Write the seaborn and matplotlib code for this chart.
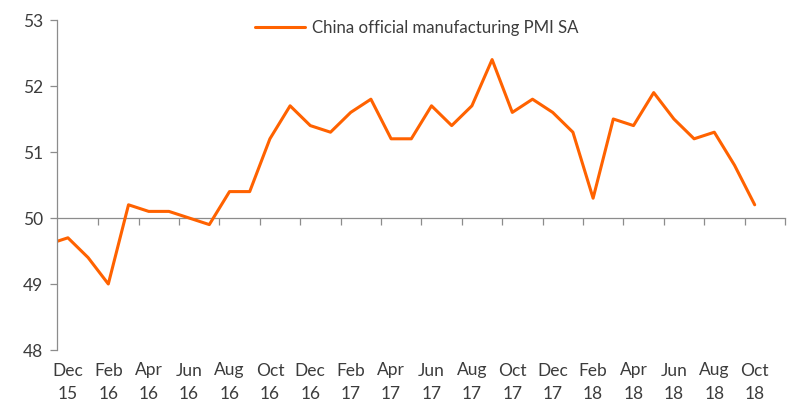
import matplotlib
matplotlib.use("Agg")
import matplotlib.pyplot as plt
import seaborn as sns
import numpy as np
import pandas as pd

months = ["Nov 15", "Dec 15", "Jan 16", "Feb 16", "Mar 16", "Apr 16", "May 16", "Jun 16", "Jul 16",
          "Aug 16", "Sep 16", "Oct 16", "Nov 16", "Dec 16", "Jan 17", "Feb 17", "Mar 17", "Apr 17",
          "May 17", "Jun 17", "Jul 17", "Aug 17", "Sep 17", "Oct 17", "Nov 17", "Dec 17", "Jan 18",
          "Feb 18", "Mar 18", "Apr 18", "May 18", "Jun 18", "Jul 18", "Aug 18", "Sep 18", "Oct 18"]
pmi = [49.6, 49.7, 49.4, 49.0, 50.2, 50.1, 50.1, 50.0, 49.9, 50.4, 50.4, 51.2, 51.7, 51.4, 51.3,
       51.6, 51.8, 51.2, 51.2, 51.7, 51.4, 51.7, 52.4, 51.6, 51.8, 51.6, 51.3, 50.3, 51.5, 51.4,
       51.9, 51.5, 51.2, 51.3, 50.8, 50.2]
tick_labels = ["Dec\n15", "Feb\n16", "Apr\n16", "Jun\n16", "Aug\n16", "Oct\n16", "Dec\n16",
               "Feb\n17", "Apr\n17", "Jun\n17", "Aug\n17", "Oct\n17", "Dec\n17", "Feb\n18",
               "Apr\n18", "Jun\n18", "Aug\n18", "Oct\n18"]
series_name = "China official manufacturing PMI SA"
yticks = [48, 49, 50, 51, 52, 53]

sns.set_style("white")
plt.rcParams['font.family'] = ['Lato', 'DejaVu Sans']

df = pd.DataFrame({"idx": np.arange(len(months)) - 1, "PMI": pmi, "series": series_name})

fig = plt.figure(figsize=(8, 4.12), dpi=100)
ax = fig.add_axes([57/800, 1 - 350/412, (785 - 57)/800, (350 - 20)/412])

sns.lineplot(data=df, x="idx", y="PMI", hue="series", palette=["#FF6200"], linewidth=2.2, ax=ax)

ax.set_xlim(-0.54, 35.5)
ax.set_ylim(48, 53)

text_color = "#3c3c3c"
grey = "#8c8c8c"

ax.set_yticks(yticks)
ax.set_yticklabels([str(v) for v in yticks], fontsize=12.5, color=text_color)
ax.tick_params(axis="y", length=5, width=0.9, color=grey, pad=5, left=True)

label_pos = np.arange(0, len(tick_labels) * 2, 2)
ax.set_xticks(label_pos)
ax.set_xticklabels(tick_labels, fontsize=12.5, color=text_color, linespacing=1.55)
ax.tick_params(axis="x", length=0, pad=9)

for s in ["top", "right", "bottom"]:
    ax.spines[s].set_visible(False)
ax.spines["left"].set_color(grey)
ax.spines["left"].set_linewidth(0.9)

# baseline axis at 50 with tick marks between month pairs
sec = ax.secondary_xaxis((50 - 48) / (53 - 48))
sec.set_xticks(np.arange(1.5, 36, 2))
sec.set_xticklabels([])
sec.tick_params(axis="x", length=5, width=0.9, color=grey, direction="out")
sec.spines["bottom"].set_color(grey)
sec.spines["bottom"].set_linewidth(0.9)

ax.set_xlabel("")
ax.set_ylabel("")
leg = ax.legend(loc="upper center", bbox_to_anchor=(0.494, 1.045), frameon=False, fontsize=12.1,
                handlelength=3.0, handletextpad=0.4)
for t in leg.get_texts():
    t.set_color(text_color)

fig.savefig("out.png", dpi=100)
